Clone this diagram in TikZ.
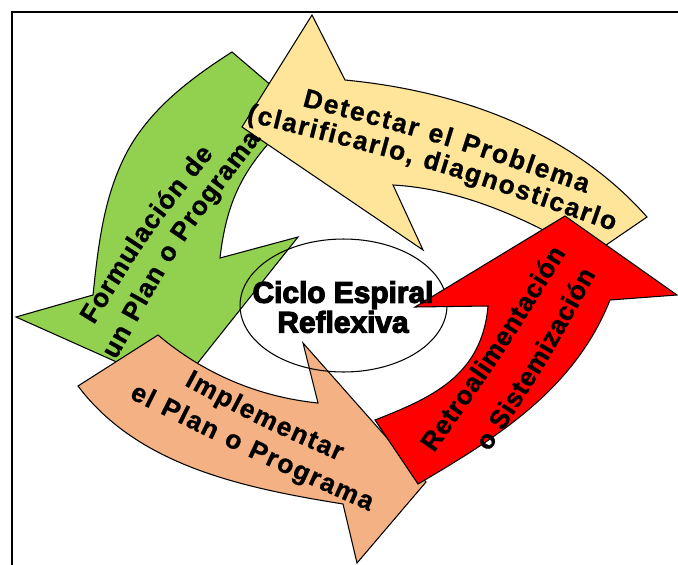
\documentclass[tikz,border=0pt]{standalone}
\usepackage{fontspec}
\setmainfont{Liberation Sans}
\newfontfamily\heavyfont[BoldFeatures={FakeBold=4}]{Liberation Sans}
\newfontfamily\lblfamily[BoldFeatures={FakeBold=0.8}]{Liberation Sans}
\usetikzlibrary{decorations.text,shapes.geometric}
\definecolor{ylwfill}{RGB}{255,229,153}
\definecolor{grnfill}{RGB}{146,208,80}
\definecolor{orgfill}{RGB}{244,177,131}
\definecolor{redfill}{RGB}{255,0,0}
\newcommand{\lblfont}{\lblfamily\fontsize{15}{17}\selectfont\bfseries}

\begin{document}
\begin{tikzpicture}[x=0.02cm,y=-0.02cm]
  \tikzstyle{cyclearrow}=[draw=black, line width=0.6pt]
  \tikzstyle{arrowlabel}=[decorate, decoration={text along path, text align={fit to path}}]
  \useasboundingbox (0,0) rectangle (678,564);
  % frame
  \draw[line width=1.2pt] (12,580) -- (12,12) -- (690,12);
  % green: Formulacion
  \filldraw[cyclearrow, fill=grnfill] (232,52) -- (300,110)
    .. controls (250,160) and (228,189) .. (220,258)
    -- (298,237) -- (177,389) -- (16,317) -- (93,295)
    .. controls (98,248) and (103,202) .. (123,160)
    .. controls (145,113) and (188,80) .. (232,52) -- cycle;
  % orange: Implementar
  \filldraw[cyclearrow, fill=orgfill] (158,335) -- (78,386)
    .. controls (138,466) and (244,488) .. (343,504)
    -- (357,563) -- (426,482) -- (303,343) -- (318,403)
    .. controls (259,397) and (204,374) .. (158,335) -- cycle;
  % yellow: Detectar
  \filldraw[cyclearrow, fill=ylwfill] (242,127) -- (312,15) -- (345,80)
    .. controls (459,91) and (571,131) .. (647,217)
    -- (590,256)
    .. controls (530,220) and (463,189) .. (393,185)
    -- (423,250) -- cycle;
  % centre
  \node[draw, ellipse, line width=0.6pt, minimum width=4.14cm, minimum height=2.66cm, inner sep=0pt] (hub) at (343.5,305.5) {};
  % red: Retroalimentacion
  \filldraw[cyclearrow, fill=redfill] (375,420) -- (418,484)
    .. controls (500,436) and (575,388) .. (610,300)
    -- (677,295) -- (565,216) -- (415,307) -- (488,306)
    .. controls (482,376) and (431,398) .. (375,420) -- cycle;
  \node[font=\heavyfont\fontsize{17}{17}\selectfont\bfseries, align=center] (hubtext) at (343,307) {Ciclo Espiral\\Reflexiva};
  % labels
  \path[arrowlabel, decoration={text={|\lblfont|Detectar el Problema}}]
    (302,106) .. controls (445,144) .. (586,193);
  \path[arrowlabel, decoration={text={|\lblfont|(clarificarlo, diagnosticarlo}}]
    (246,121) .. controls (430,167) .. (613,231);
  \path[arrowlabel, decoration={text={|\lblfont|Formulación de}}]
    (94,325) .. controls (149,235) .. (214,154);
  \path[arrowlabel, decoration={text={|\lblfont|un Plan o Programa}}]
    (116,360) .. controls (180,244) .. (261,139);
  \path[arrowlabel, decoration={text={|\lblfont|Implementar}}]
    (184,385) .. controls (260,426) .. (339,461);
  \path[arrowlabel, decoration={text={|\lblfont|el Plan o Programa}}]
    (129,398) .. controls (248,457) .. (369,511);
  \path[arrowlabel, decoration={text={|\lblfont|Retroalimentación}}]
    (434,453) .. controls (503,355) .. (566,253);
  \path[arrowlabel, decoration={text={|\lblfont|o Sistemización}}]
    (489,452) .. controls (546,365) .. (596,274);
\end{tikzpicture}
\end{document}
